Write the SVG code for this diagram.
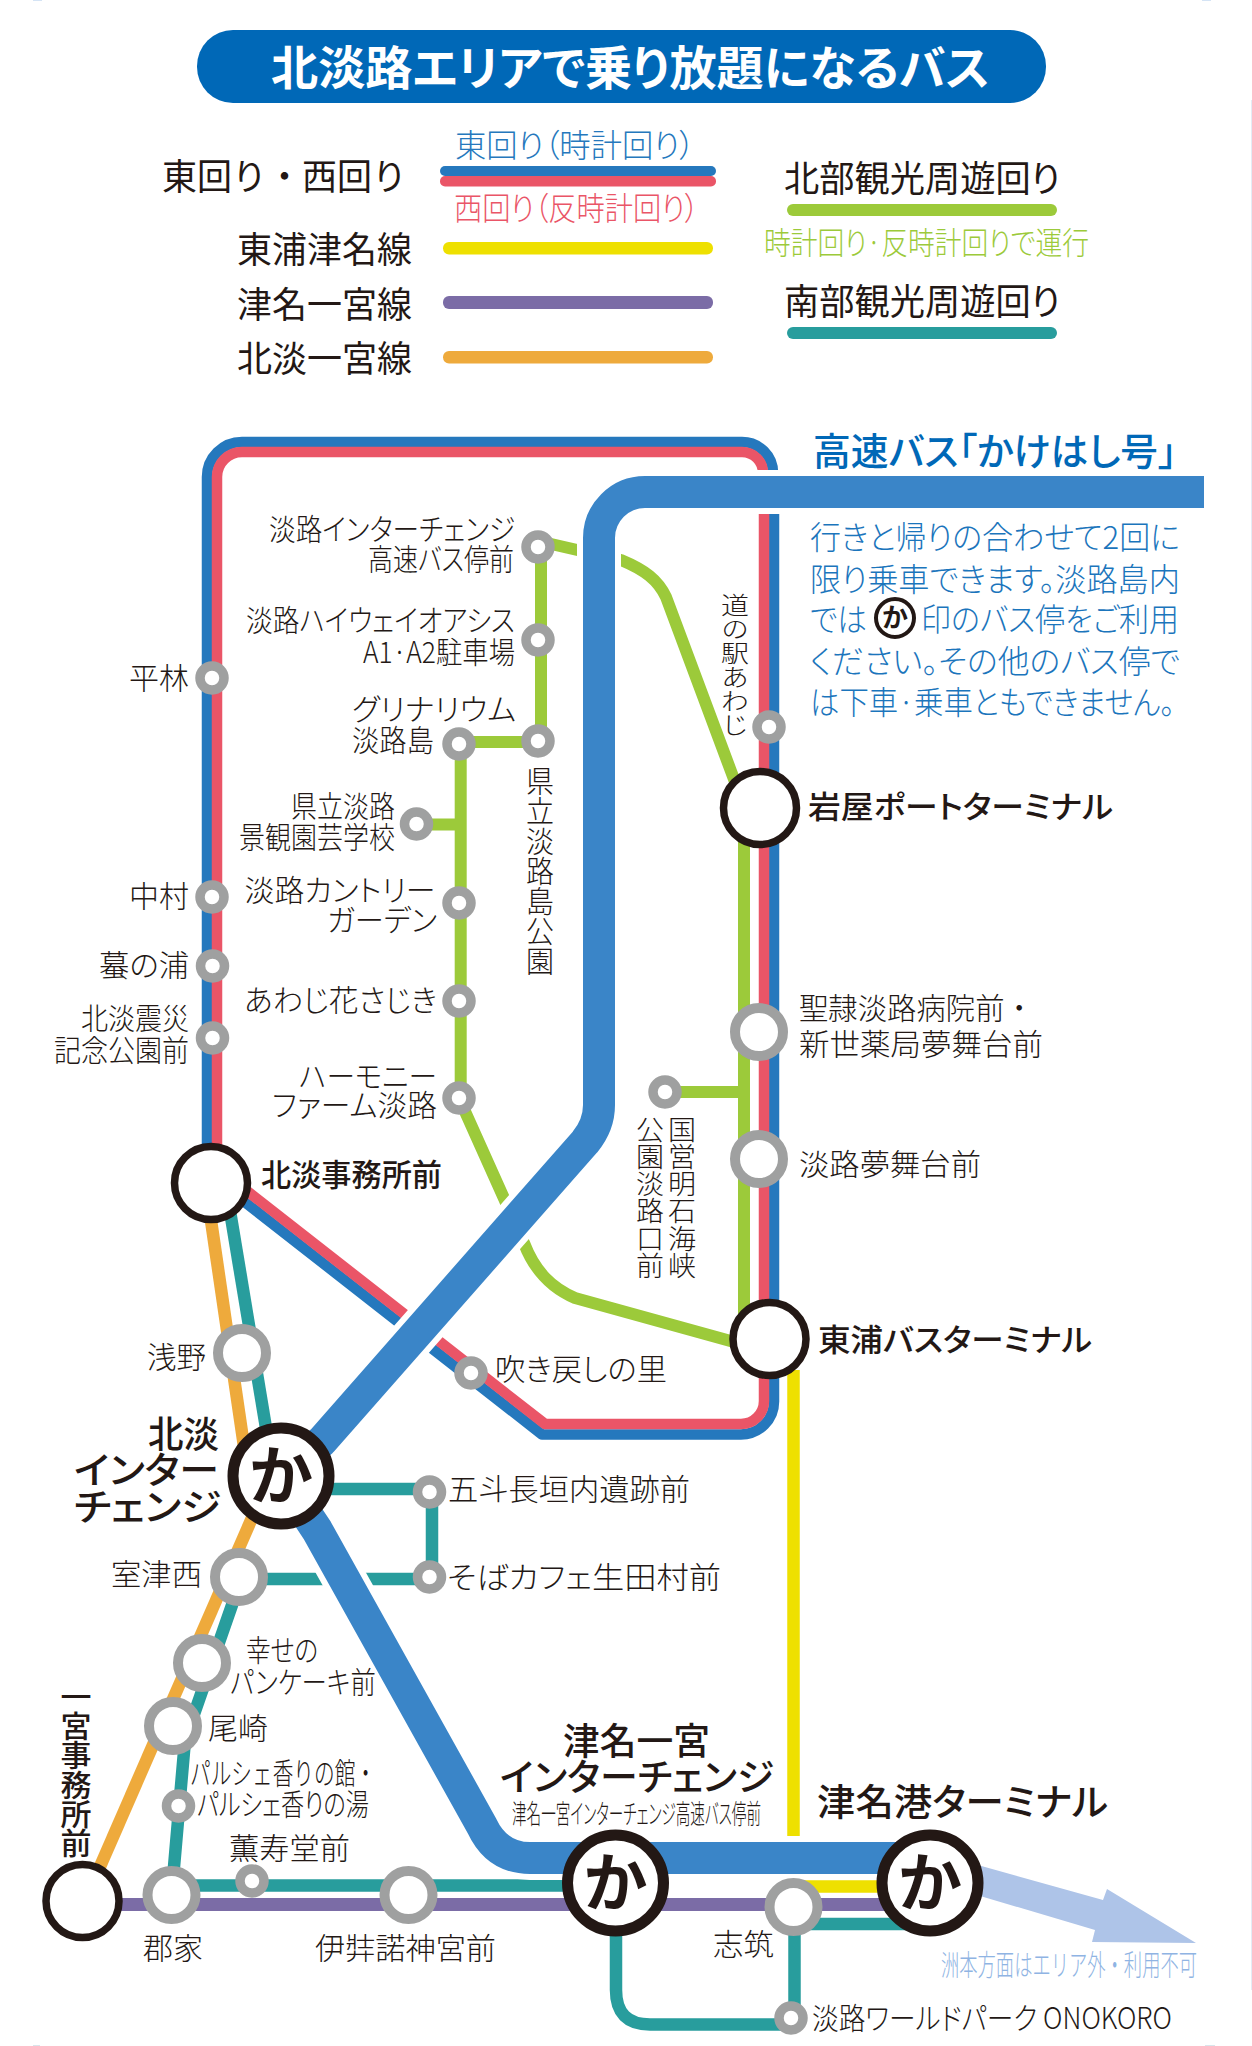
<svg xmlns="http://www.w3.org/2000/svg" width="1252" height="2046" viewBox="0 0 1252 2046">
<style>
text{font-family:"Noto Sans CJK JP","Noto Sans",sans-serif;fill:#231815;font-weight:300;font-feature-settings:"palt"}
.l{font-size:30px}
.h{font-size:37px;font-weight:500}
.m{font-size:31px;font-weight:500}
.n{font-size:36px;font-weight:400}
.v{writing-mode:vertical-rl;font-size:28px;font-feature-settings:normal}
.bl{font-size:32px;fill:#1b75bc}
.k{font-weight:700;text-anchor:middle;font-feature-settings:normal}
.ln{fill:none;stroke-linejoin:round}
.blue{stroke:#2578bd;stroke-width:10.5}
.red{stroke:#ea5567;stroke-width:10.5}
.grn{stroke:#9cca3a;stroke-width:12}
.tl{stroke:#289d9d;stroke-width:12.5}
.org{stroke:#eeaa3c;stroke-width:12.5}
.pur{stroke:#7b6ca6;stroke-width:13}
.yel{stroke:#eee000;stroke-width:12.5}
.bus{stroke:#3a85c8;stroke-width:32}
.cas{stroke:#fff;stroke-width:44}
.big{fill:#fff;stroke:#9fa0a0;stroke-width:10}
.sm{fill:#fff;stroke:#9fa0a0;stroke-width:9.5}
.hub{fill:#fff;stroke:#231815;stroke-width:7.5}
.ka{fill:#fff;stroke:#231815;stroke-width:11}
.edge{fill:#d5e4f5}
</style>
<g id="edge-marks">
<rect class="edge" x="33" y="0" width="9" height="1"/>
<rect class="edge" x="1202" y="0" width="9" height="1"/>
<rect x="33" y="2045" width="7" height="1" fill="#d8e6ec"/>
<rect x="1205" y="2045" width="10" height="1" fill="#d8e6ec"/>
<rect x="1251" y="100" width="1" height="1890" fill="#e3ecf6"/>
</g>
<g id="title">
<rect x="197" y="30" width="849" height="73" rx="36" fill="#0068b7"/>
<text x="271" y="85" font-size="47" style="fill:#fff;font-weight:700" textLength="719" lengthAdjust="spacingAndGlyphs">北淡路エリアで乗り放題になるバス</text>
</g>
<g id="legend">
<text x="455" y="157" font-size="32" style="fill:#2578bd" textLength="240" lengthAdjust="spacingAndGlyphs">東回り（時計回り）</text>
<rect x="440" y="166" width="276" height="10" rx="5" fill="#2578bd"/>
<rect x="440" y="176" width="276" height="10.5" rx="5" fill="#ea5567"/>
<text x="454" y="220" font-size="32" style="fill:#ea5567" textLength="245" lengthAdjust="spacingAndGlyphs">西回り（反時計回り）</text>
<text class="n" x="162" y="190" textLength="245" lengthAdjust="spacingAndGlyphs" style="font-feature-settings:normal">東回り・西回り</text>
<text class="n" x="237" y="263" textLength="175" lengthAdjust="spacingAndGlyphs">東浦津名線</text>
<rect x="443" y="242" width="270" height="12.5" rx="6" fill="#eee000"/>
<text class="n" x="237" y="318" textLength="175" lengthAdjust="spacingAndGlyphs">津名一宮線</text>
<rect x="443" y="296" width="270" height="13" rx="6" fill="#7b6ca6"/>
<text class="n" x="237" y="372" textLength="175" lengthAdjust="spacingAndGlyphs">北淡一宮線</text>
<rect x="443" y="351" width="270" height="12.5" rx="6" fill="#eeaa3c"/>
<text class="n" x="784" y="192" textLength="276" lengthAdjust="spacingAndGlyphs">北部観光周遊回り</text>
<rect x="787" y="204" width="270" height="12" rx="6" fill="#9cca3a"/>
<text x="764" y="254" font-size="31" style="fill:#9cca3a" textLength="325" lengthAdjust="spacingAndGlyphs">時計回り·反時計回りで運行</text>
<text class="n" x="784" y="315" textLength="276" lengthAdjust="spacingAndGlyphs">南部観光周遊回り</text>
<rect x="787" y="327" width="270" height="12" rx="6" fill="#289d9d"/>
</g>
<g id="connectors">
<path class="ln org" d="M208,1200 L246,1460"/>
<path class="ln org" d="M262,1495 L92,1885"/>
<path class="ln tl" d="M229,1205 L268,1440"/>
<path class="ln tl" d="M239,1585 L185,1740 L172,1890"/>
<path class="ln tl" d="M281,1489 H432 V1579 H239"/>
<path class="ln tl" d="M172,1885.5 H616 V1990 Q616,2024.5 650,2024.5 H791"/>
<path class="ln tl" d="M794.5,1907 V2018"/>
<path class="ln tl" d="M794,1924 H930"/>
<path class="ln pur" d="M82,1904.5 H930"/>
<path class="ln yel" d="M793.5,1370 V1886.5 H930"/>
<polygon id="to-sumoto" points="960,1860 1103,1900 1107,1889 1196,1943 1092,1942 1095,1930 960,1890" fill="#aec4e8"/>
<path class="ln grn" d="M541,547 V742 H460.7 V1098 M417,824.5 H460.7"/>
<path class="ln grn" d="M538,541 L621,560 C645,570 658,580 666,597 L738,790"/>
<path class="ln grn" d="M744,808 V1340 M665,1092 H744"/>
<path class="ln grn" d="M459,1098 L524,1243 C535,1272 552,1288 575,1298 L770,1352"/>
<path class="ln blue" d="M773,473 A31,31 0 0 0 742,442 H242 A35,35 0 0 0 207,477 V1172.5 L542,1434.5 H741 A33,33 0 0 0 774,1401.5 V490"/>
<path class="ln red" d="M763,473 A21,21 0 0 0 742,452 H242 A25,25 0 0 0 217,477 V1167.5 L545,1424 H741 A23,23 0 0 0 764,1401 V490"/>
<path class="ln cas" d="M1210,492 H645 A46,46 0 0 0 599,538 V1105 Q599,1125 585,1142 L322,1441 L281,1476 L317,1530 L482,1826 Q497,1858 530,1858 H930"/>
<path class="ln bus" d="M1204,492 H645 A46,46 0 0 0 599,538 V1105 Q599,1125 585,1142 L322,1441 L281,1476 L317,1530 L482,1826 Q497,1858 530,1858 H930"/>
</g>
<g id="n-hirabayashi"><circle class="sm" cx="212" cy="678" r="12"/><text class="l" x="129" y="689" textLength="60" lengthAdjust="spacingAndGlyphs">平林</text></g>
<g id="n-nakamura"><circle class="sm" cx="212" cy="897" r="12"/><text class="l" x="129" y="907" textLength="60" lengthAdjust="spacingAndGlyphs">中村</text></g>
<g id="n-tsutanoura"><circle class="sm" cx="212.5" cy="966" r="12"/><text class="l" x="99" y="976" textLength="90" lengthAdjust="spacingAndGlyphs">蟇の浦</text></g>
<g id="n-shinsai"><circle class="sm" cx="212.5" cy="1038" r="12"/><text class="l" x="81" y="1029" textLength="108" lengthAdjust="spacingAndGlyphs">北淡震災</text><text class="l" x="54" y="1061" textLength="135" lengthAdjust="spacingAndGlyphs">記念公園前</text></g>
<g id="n-hokudan-office"><circle class="hub" cx="211" cy="1183" r="36.5"/><text class="m" x="261" y="1186" textLength="181" lengthAdjust="spacingAndGlyphs">北淡事務所前</text></g>
<g id="n-asano"><circle class="big" cx="242" cy="1353" r="24"/><text class="l" x="147" y="1368" textLength="59" lengthAdjust="spacingAndGlyphs">浅野</text></g>
<g id="n-fukimodoshi"><circle class="sm" cx="471" cy="1373" r="12"/><text class="l" x="495" y="1380" textLength="172" lengthAdjust="spacingAndGlyphs">吹き戻しの里</text></g>
<g id="n-hokudan-ic"><circle class="ka" cx="281" cy="1476" r="48"/><text class="k" x="281" y="1499" font-size="64">か</text>
<text class="h" x="148" y="1448" textLength="71" lengthAdjust="spacingAndGlyphs">北淡</text><text class="h" x="74" y="1484" textLength="145" lengthAdjust="spacingAndGlyphs">インター</text><text class="h" x="74" y="1521" textLength="147" lengthAdjust="spacingAndGlyphs">チェンジ</text></g>
<g id="n-gosso"><circle class="sm" cx="429.5" cy="1492" r="12"/><text class="l" x="448" y="1500" textLength="242" lengthAdjust="spacingAndGlyphs">五斗長垣内遺跡前</text></g>
<g id="n-soba"><circle class="sm" cx="429.5" cy="1577" r="12"/><text class="l" x="447" y="1588" textLength="274" lengthAdjust="spacingAndGlyphs">そばカフェ生田村前</text></g>
<g id="n-murotsu"><circle class="big" cx="239" cy="1577" r="24"/><text class="l" x="111" y="1585" textLength="91" lengthAdjust="spacingAndGlyphs">室津西</text></g>
<g id="n-pancake"><circle class="big" cx="202" cy="1663" r="24"/><text class="l" x="246" y="1661" textLength="72" lengthAdjust="spacingAndGlyphs">幸せの</text><text class="l" x="230" y="1693" textLength="146" lengthAdjust="spacingAndGlyphs">パンケーキ前</text></g>
<g id="n-ozaki"><circle class="big" cx="173" cy="1726" r="24"/><text class="l" x="208" y="1739" textLength="60" lengthAdjust="spacingAndGlyphs">尾崎</text></g>
<g id="n-parche"><circle class="sm" cx="178.5" cy="1806" r="12"/><text class="l" x="190" y="1784" textLength="186" lengthAdjust="spacingAndGlyphs" style="font-feature-settings:normal">パルシェ香りの館・</text><text class="l" x="197" y="1815" textLength="172" lengthAdjust="spacingAndGlyphs">パルシェ香りの湯</text></g>
<g id="n-kunjudo"><circle class="sm" cx="252" cy="1881" r="12"/><text class="l" x="229" y="1859" textLength="121" lengthAdjust="spacingAndGlyphs">薫寿堂前</text></g>
<g id="n-ichinomiya"><circle class="hub" cx="82.5" cy="1901" r="36.5"/><text class="v" x="76" y="1682" style="font-size:31px;font-weight:500" textLength="176" lengthAdjust="spacingAndGlyphs">一宮事務所前</text></g>
<g id="n-gunge"><circle class="big" cx="171.5" cy="1895" r="24"/><text class="l" x="143" y="1959" textLength="60" lengthAdjust="spacingAndGlyphs">郡家</text></g>
<g id="n-izanagi"><circle class="big" cx="408.5" cy="1895" r="24"/><text class="l" x="315" y="1959" textLength="181" lengthAdjust="spacingAndGlyphs">伊弉諾神宮前</text></g>
<g id="n-awaji-ic"><circle class="sm" cx="538" cy="547" r="12"/><text class="l" x="269" y="540" textLength="246" lengthAdjust="spacingAndGlyphs">淡路インターチェンジ</text><text class="l" x="368" y="570" textLength="146" lengthAdjust="spacingAndGlyphs">高速バス停前</text></g>
<g id="n-highway-oasis"><circle class="sm" cx="538" cy="640" r="12"/><text class="l" x="246" y="631" textLength="269" lengthAdjust="spacingAndGlyphs">淡路ハイウェイオアシス</text><text class="l" x="363" y="663" textLength="152" lengthAdjust="spacingAndGlyphs">A1·A2駐車場</text></g>
<g id="n-kenritsu-park"><circle class="sm" cx="538" cy="741" r="12"/><text class="v" x="540" y="766" textLength="210" lengthAdjust="spacingAndGlyphs">県立淡路島公園</text></g>
<g id="n-greenarium"><circle class="sm" cx="459" cy="744" r="12"/><text class="l" x="352" y="720" textLength="164" lengthAdjust="spacingAndGlyphs">グリナリウム</text><text class="l" x="352" y="751" textLength="82" lengthAdjust="spacingAndGlyphs">淡路島</text></g>
<g id="n-keikan"><circle class="sm" cx="416.5" cy="824" r="12"/><text class="l" x="291" y="817" textLength="104" lengthAdjust="spacingAndGlyphs">県立淡路</text><text class="l" x="239" y="848" textLength="156" lengthAdjust="spacingAndGlyphs">景観園芸学校</text></g>
<g id="n-country"><circle class="sm" cx="459" cy="903" r="12"/><text class="l" x="244.5" y="901" textLength="191" lengthAdjust="spacingAndGlyphs">淡路カントリー</text><text class="l" x="327" y="931" textLength="110" lengthAdjust="spacingAndGlyphs">ガーデン</text></g>
<g id="n-hanasajiki"><circle class="sm" cx="459" cy="1001" r="12"/><text class="l" x="244" y="1011" textLength="193" lengthAdjust="spacingAndGlyphs">あわじ花さじき</text></g>
<g id="n-harmony"><circle class="sm" cx="459" cy="1098" r="12"/><text class="l" x="299" y="1087" textLength="138" lengthAdjust="spacingAndGlyphs">ハーモニー</text><text class="l" x="272" y="1116" textLength="165" lengthAdjust="spacingAndGlyphs">ファーム淡路</text></g>
<g id="n-michinoeki"><circle class="sm" cx="769" cy="727" r="12"/><text class="v" x="735" y="593" textLength="144" lengthAdjust="spacingAndGlyphs">道の駅あわじ</text></g>
<g id="n-iwaya"><circle class="hub" cx="760" cy="808" r="36.5"/><text class="m" x="808" y="818" textLength="305" lengthAdjust="spacingAndGlyphs">岩屋ポートターミナル</text></g>
<g id="n-seirei"><circle class="big" cx="759" cy="1032" r="24"/><text class="l" x="799" y="1019" textLength="235" lengthAdjust="spacingAndGlyphs" style="font-feature-settings:normal">聖隷淡路病院前・</text><text class="l" x="799" y="1055" textLength="244" lengthAdjust="spacingAndGlyphs">新世薬局夢舞台前</text></g>
<g id="n-yumebutai"><circle class="big" cx="759" cy="1159" r="24"/><text class="l" x="799" y="1175" textLength="182" lengthAdjust="spacingAndGlyphs">淡路夢舞台前</text></g>
<g id="n-kaikyo"><circle class="sm" cx="665" cy="1092" r="12"/><text class="v" x="682" y="1116" textLength="163" lengthAdjust="spacingAndGlyphs">国営明石海峡</text><text class="v" x="650" y="1116" textLength="163" lengthAdjust="spacingAndGlyphs">公園淡路口前</text></g>
<g id="n-higashiura"><circle class="hub" cx="769.5" cy="1339" r="36.5"/><text class="m" x="818" y="1351" textLength="274" lengthAdjust="spacingAndGlyphs">東浦バスターミナル</text></g>
<g id="n-tsuna-ic"><circle class="ka" cx="615.5" cy="1883" r="48"/><text class="k" x="615.5" y="1906" font-size="64">か</text>
<text class="h" x="563" y="1755" textLength="147" lengthAdjust="spacingAndGlyphs">津名一宮</text><text class="h" x="500" y="1791" textLength="274" lengthAdjust="spacingAndGlyphs">インターチェンジ</text><text x="512" y="1824" font-size="27" textLength="249" lengthAdjust="spacingAndGlyphs">津名一宮インターチェンジ高速バス停前</text></g>
<g id="n-shizuki"><circle class="big" cx="793.5" cy="1907" r="24"/><text class="l" x="713" y="1955" textLength="61" lengthAdjust="spacingAndGlyphs">志筑</text></g>
<g id="n-tsuna-port"><circle class="ka" cx="930" cy="1883" r="48"/><text class="k" x="930" y="1906" font-size="64">か</text><text class="h" x="817" y="1816" textLength="291" lengthAdjust="spacingAndGlyphs">津名港ターミナル</text></g>
<g id="n-onokoro"><circle class="sm" cx="791" cy="2018" r="12"/><text class="l" x="812" y="2029" textLength="360" lengthAdjust="spacingAndGlyphs">淡路ワールドパーク ONOKORO</text></g>
<g id="notes">
<text x="941" y="1976" font-size="29" style="fill:#8fb4e3;font-feature-settings:normal" textLength="256" lengthAdjust="spacingAndGlyphs">洲本方面はエリア外・利用不可</text>
<text x="813" y="465" font-size="38" style="fill:#0068b7;font-weight:500" textLength="364" lengthAdjust="spacingAndGlyphs">高速バス「かけはし号」</text>
<text class="bl" x="810" y="549" textLength="370" lengthAdjust="spacingAndGlyphs">行きと帰りの合わせて2回に</text>
<text class="bl" x="810" y="591" textLength="370" lengthAdjust="spacingAndGlyphs">限り乗車できます。淡路島内</text>
<text class="bl" x="810" y="631" textLength="57" lengthAdjust="spacingAndGlyphs">では</text>
<circle cx="895" cy="618" r="19" fill="#fff" stroke="#231815" stroke-width="4"/>
<text class="k" x="895" y="627" font-size="26">か</text>
<text class="bl" x="921" y="631" textLength="258" lengthAdjust="spacingAndGlyphs">印のバス停をご利用</text>
<text class="bl" x="810" y="673" textLength="370" lengthAdjust="spacingAndGlyphs">ください。その他のバス停で</text>
<text class="bl" x="810" y="714" textLength="365" lengthAdjust="spacingAndGlyphs">は下車·乗車ともできません。</text>
</g>
</svg>
